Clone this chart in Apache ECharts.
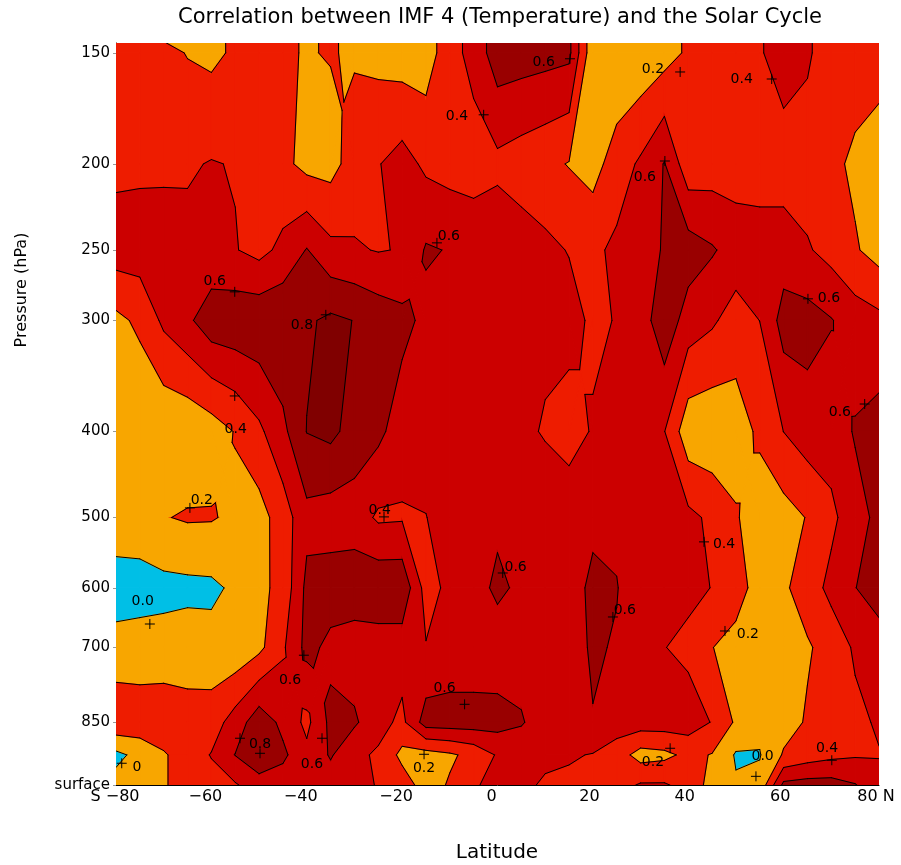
<!DOCTYPE html>
<html>
<head>
<meta charset="utf-8">
<title>Correlation between IMF 4 (Temperature) and the Solar Cycle</title>
<script src="https://cdn.jsdelivr.net/npm/echarts@6/dist/echarts.min.js"></script>
<style>
  html, body { margin: 0; padding: 0; background: #fff; }
  #chart { width: 901px; height: 865px; }
</style>
</head>
<body>
<div id="chart"></div>
<script>
// grid of the correlation field: latitude every 5 degrees, pressure levels in hPa
const latitudes = [-80, -75, -70, -65, -60, -55, -50, -45, -40, -35, -30, -25, -20, -15, -10, -5, 0,
  5, 10, 15, 20, 25, 30, 35, 40, 45, 50, 55, 60, 65, 70, 75, 80];
const pressureLevels = [140, 150, 200, 250, 300, 400, 500, 600, 700, 850, 925, 1000];

// correlation values, one row per pressure level (south -> north)
const corr140 = [0.30, 0.30, 0.12, 0.19, 0.155, 0.23, 0.30, 0.22, 0.19, 0.21, 0.18, 0.14, 0.10, 0.10, 0.32, 0.47, 0.71, 0.69, 0.67, 0.645, 0.05, 0.02, 0.05, 0.12, 0.23, 0.30, 0.33, 0.38, 0.50, 0.43, 0.28, 0.30, 0.30];
const corr150 = [0.30, 0.30, 0.26, 0.19, 0.155, 0.23, 0.30, 0.22, 0.19, 0.21, 0.18, 0.14, 0.10, 0.10, 0.32, 0.47, 0.71, 0.69, 0.67, 0.645, 0.05, 0.02, 0.05, 0.12, 0.23, 0.30, 0.33, 0.38, 0.50, 0.43, 0.28, 0.30, 0.30];
const corr200 = [0.35, 0.36, 0.37, 0.38, 0.41, 0.39, 0.35, 0.25, 0.14, 0.13, 0.29, 0.39, 0.48, 0.36, 0.32, 0.30, 0.35, 0.30, 0.25, 0.19, 0.12, 0.30, 0.43, 0.61, 0.27, 0.30, 0.30, 0.30, 0.30, 0.30, 0.25, 0.16, 0.08];
const corr250 = [0.50, 0.50, 0.48, 0.45, 0.45, 0.41, 0.34, 0.45, 0.61, 0.45, 0.42, 0.39, 0.41, 0.62, 0.59, 0.55, 0.55, 0.50, 0.45, 0.39, 0.36, 0.44, 0.50, 0.62, 0.70, 0.62, 0.52, 0.50, 0.50, 0.42, 0.33, 0.22, 0.12];
const corr300 = [0.15, 0.24, 0.44, 0.56, 0.72, 0.74, 0.75, 0.77, 0.77, 0.84, 0.795, 0.72, 0.66, 0.55, 0.50, 0.50, 0.50, 0.50, 0.45, 0.48, 0.36, 0.41, 0.50, 0.73, 0.51, 0.43, 0.31, 0.402, 0.68, 0.68, 0.61, 0.50, 0.45];
const corr400 = [0.05, 0.03, 0.03, 0.04, 0.10, 0.21, 0.36, 0.55, 0.805, 0.85, 0.72, 0.65, 0.49, 0.50, 0.50, 0.50, 0.50, 0.45, 0.38, 0.30, 0.42, 0.50, 0.45, 0.405, 0.07, 0.05, 0.10, 0.24, 0.402, 0.50, 0.50, 0.616, 0.68];
const corr500 = [0.10, 0.10, 0.19, 0.22, 0.215, 0.16, 0.12, 0.30, 0.54, 0.50, 0.50, 0.37, 0.38, 0.395, 0.50, 0.55, 0.55, 0.55, 0.55, 0.55, 0.55, 0.55, 0.50, 0.50, 0.45, 0.36, 0.22, 0.08, 0.12, 0.21, 0.35, 0.53, 0.645];
const corr600 = [-0.08, -0.07, -0.06, -0.05, -0.04, 0.035, 0.15, 0.26, 0.65, 0.70, 0.72, 0.75, 0.75, 0.32, 0.45, 0.50, 0.65, 0.55, 0.55, 0.50, 0.65, 0.61, 0.45, 0.50, 0.45, 0.395, 0.30, 0.10, 0.17, 0.29, 0.46, 0.595, 0.70];
const corr700 = [0.06, 0.07, 0.08, 0.10, 0.07, 0.05, 0.15, 0.37, 0.66, 0.55, 0.50, 0.50, 0.50, 0.41, 0.45, 0.45, 0.47, 0.50, 0.50, 0.50, 0.63, 0.58, 0.50, 0.405, 0.35, 0.205, 0.12, 0.05, 0.10, 0.18, 0.27, 0.43, 0.50];
const corr850 = [0.36, 0.33, 0.33, 0.28, 0.30, 0.49, 0.72, 0.55, 0.35, 0.65, 0.627, 0.475, 0.35, 0.69, 0.70, 0.70, 0.68, 0.62, 0.48, 0.50, 0.59, 0.50, 0.50, 0.50, 0.50, 0.39, 0.17, 0.05, 0.12, 0.22, 0.30, 0.35, 0.426];
const corr925 = [-0.05, 0.06, 0.18, 0.29, 0.41, 0.605, 0.75, 0.64, 0.45, 0.62, 0.45, 0.37, 0.146, 0.12, 0.17, 0.258, 0.42, 0.45, 0.45, 0.42, 0.39, 0.30, 0.12, 0.15, 0.25, 0.19, -0.02, -0.01, 0.22, 0.30, 0.35, 0.38, 0.39];
const corr1000 = [0.07, 0.10, 0.18, 0.29, 0.33, 0.38, 0.51, 0.50, 0.50, 0.50, 0.45, 0.39, 0.30, 0.11, 0.22, 0.36, 0.51, 0.45, 0.37, 0.36, 0.30, 0.32, 0.42, 0.42, 0.33, 0.125, 0.02, 0.05, 0.65, 0.68, 0.68, 0.61, 0.47];
const corrRows = [corr140, corr150, corr200, corr250, corr300, corr400, corr500, corr600, corr700, corr850, corr925, corr1000];

// contour levels and the fill colour of each band (below 0, 0-0.2, ... , above 0.8)
const contourLevels = [0, 0.2, 0.4, 0.6, 0.8];
const bandColors = ['#00BFE6', '#F8A600', '#EE1C00', '#CC0000', '#990000', '#800000'];

// axis ticks
const xTickValues = [-80, -60, -40, -20, 0, 20, 40, 60, 80];
const xTickLabels = ['S \u221280', '\u221260', '\u221240', '\u221220', '0', '20', '40', '60', '80 N'];
const yTickPressures = [150, 200, 250, 300, 400, 500, 600, 700, 850, 1000];
const yTickLabels = ['150', '200', '250', '300', '400', '500', '600', '700', '850', 'surface'];

// contour labels: "+" marker position and text position (latitude, hPa)
const markLat = [15.2, 38.3, 57.5, -2.9, 35.1, -12.7, -55.1, -36.0, 65.1, -55.1, 77.0, -64.5, -23.8, 43.3, 1.1, 24.2, -72.9, 47.7, -40.6, -6.9, -49.8, -54.0, -36.8, -15.4, 36.2, 54.2, 70.1, -78.8];
const markP = [152.3, 157.6, 160.5, 176.1, 198.5, 245.4, 278.6, 295.7, 283.7, 364.9, 372.6, 487.7, 499.2, 532.6, 577.3, 647.0, 658.9, 670.9, 714.4, 811.3, 921.1, 885.9, 885.9, 923.5, 909.2, 977.8, 937.9, 945.2];
const labelLat = [9.7, 32.6, 51.2, -8.5, 30.9, -10.2, -59.3, -41.0, 69.5, -54.9, 71.8, -62.0, -24.7, 47.5, 3.8, 26.7, -74.4, 52.5, -43.5, -11.1, -49.8, -54.0, -38.9, -15.4, 32.6, 55.6, 69.1, -75.6];
const labelP = [153.9, 156.4, 160.5, 176.6, 207.3, 241.0, 270.8, 303.6, 283.7, 397.6, 380.4, 477.7, 490.2, 535.4, 568.3, 635.4, 620.7, 676.2, 762.3, 778.3, 899.8, 885.9, 947.7, 957.7, 942.8, 927.9, 909.2, 955.2];
const labelText = ['0.6', '0.2', '0.4', '0.4', '0.6', '0.6', '0.6', '0.8', '0.6', '0.4', '0.6', '0.2', '0.4', '0.4', '0.6', '0.6', '0.0', '0.2', '0.6', '0.6', '0.8', '', '0.6', '0.2', '0.2', '0.0', '0.4', '0'];

const FONT = 'DejaVu Sans';
const bandLower = [-Infinity].concat(contourLevels);
const bandUpper = contourLevels.concat([Infinity]);

// one item per grid cell, placed at the cell centre
const cells = [];
for (let j = 0; j < pressureLevels.length - 1; j++) {
  for (let i = 0; i < latitudes.length - 1; i++) {
    cells.push([(latitudes[i] + latitudes[i + 1]) / 2,
      (Math.log(pressureLevels[j]) + Math.log(pressureLevels[j + 1])) / 2, i, j]);
  }
}
const marks = markLat.map(function (lat, k) { return [lat, Math.log(markP[k]), k]; });

// pieces of a cell: the quad itself, or 4 triangles around the mean
// when a level gives a saddle (so the saddle is decided by the cell mean)
function cellPieces(api) {
  const i = api.value(2), j = api.value(3);
  const q = [[i, j], [i + 1, j], [i + 1, j + 1], [i, j + 1]].map(function (c) {
    const p = api.coord([latitudes[c[0]], Math.log(pressureLevels[c[1]])]);
    return { x: p[0], y: p[1], v: corrRows[c[1]][c[0]] };
  });
  const saddle = contourLevels.some(function (L) {
    const a = q.map(function (c) { return c.v >= L; });
    return a[0] === a[2] && a[1] === a[3] && a[0] !== a[1];
  });
  if (!saddle) return [q];
  const mid = { x: 0, y: 0, v: 0 };
  q.forEach(function (c) { mid.x += c.x / 4; mid.y += c.y / 4; mid.v += c.v / 4; });
  return [0, 1, 2, 3].map(function (k) { return [q[k], q[(k + 1) % 4], mid]; });
}

function clip(poly, level, keepAbove) {
  const out = [];
  for (let k = 0; k < poly.length; k++) {
    const a = poly[k], b = poly[(k + 1) % poly.length];
    const inA = keepAbove ? a.v >= level : a.v <= level;
    const inB = keepAbove ? b.v >= level : b.v <= level;
    if (inA) out.push(a);
    if (inA !== inB) {
      const f = (level - a.v) / (b.v - a.v);
      out.push({ x: a.x + f * (b.x - a.x), y: a.y + f * (b.y - a.y), v: level });
    }
  }
  return out;
}

function renderBands(params, api) {
  const children = [];
  cellPieces(api).forEach(function (piece) {
    for (let b = 0; b < bandColors.length; b++) {
      let poly = piece;
      if (isFinite(bandLower[b])) poly = clip(poly, bandLower[b], true);
      if (poly.length > 2 && isFinite(bandUpper[b])) poly = clip(poly, bandUpper[b], false);
      if (poly.length > 2) {
        children.push({
          type: 'polygon',
          shape: { points: poly.map(function (p) { return [p.x, p.y]; }) },
          style: { fill: bandColors[b], stroke: bandColors[b], lineWidth: 1.2 }
        });
      }
    }
  });
  return { type: 'group', children: children };
}

function renderLines(params, api) {
  const children = [];
  cellPieces(api).forEach(function (piece) {
    contourLevels.forEach(function (level) {
      const pts = [];
      for (let k = 0; k < piece.length; k++) {
        const a = piece[k], b = piece[(k + 1) % piece.length];
        if ((a.v >= level) !== (b.v >= level)) {
          const f = (level - a.v) / (b.v - a.v);
          pts.push([a.x + f * (b.x - a.x), a.y + f * (b.y - a.y)]);
        }
      }
      if (pts.length === 2) {
        children.push({
          type: 'line',
          shape: { x1: pts[0][0], y1: pts[0][1], x2: pts[1][0], y2: pts[1][1] },
          style: { stroke: '#000', lineWidth: 1, lineCap: 'round' }
        });
      }
    });
  });
  return { type: 'group', children: children };
}

function renderMarks(params, api) {
  const k = api.value(2);
  const c = api.coord([api.value(0), api.value(1)]);
  const children = [
    { type: 'line', shape: { x1: c[0] - 5, y1: c[1], x2: c[0] + 5, y2: c[1] }, style: { stroke: '#000', lineWidth: 1 } },
    { type: 'line', shape: { x1: c[0], y1: c[1] - 5, x2: c[0], y2: c[1] + 5 }, style: { stroke: '#000', lineWidth: 1 } }
  ];
  if (labelText[k]) {
    const t = api.coord([labelLat[k], Math.log(labelP[k])]);
    children.push({
      type: 'text', x: t[0], y: t[1],
      style: {
        text: labelText[k], fill: '#000', font: '14px "' + FONT + '"',
        align: 'center', verticalAlign: 'middle', textAlign: 'center', textVerticalAlign: 'middle'
      }
    });
  }
  return { type: 'group', children: children };
}

const xRich = {};
[['neg', 12], ['pos', 7], ['edgeL', 2], ['edgeR', 6]].forEach(function (r) {
  xRich[r[0]] = { fontFamily: FONT, fontSize: 16, color: '#000', padding: [0, r[1], 0, 0] };
});

const option = {
  animation: false,
  backgroundColor: '#fff',
  grid: { left: 116, top: 43, right: 22, height: 742, containLabel: false },
  graphic: [
    {
      type: 'text', x: 500, y: 18,
      style: {
        text: 'Correlation between IMF 4 (Temperature) and the Solar Cycle',
        fill: '#000', font: '21px "' + FONT + '"',
        align: 'center', verticalAlign: 'middle', textAlign: 'center', textVerticalAlign: 'middle'
      }
    },
    {
      type: 'text', x: 22, y: 290, rotation: Math.PI / 2,
      style: {
        text: 'Pressure (hPa)', fill: '#000', font: '16px "' + FONT + '"',
        align: 'center', verticalAlign: 'middle', textAlign: 'center', textVerticalAlign: 'middle'
      }
    },
    {
      type: 'text', x: 497, y: 853,
      style: {
        text: 'Latitude', fill: '#000', font: '20px "' + FONT + '"',
        align: 'center', verticalAlign: 'middle', textAlign: 'center', textVerticalAlign: 'middle'
      }
    }
  ],
  xAxis: {
    type: 'value', min: -80, max: 80, interval: 20,
    axisLine: { show: true, onZero: false, lineStyle: { color: '#000', width: 1 } },
    axisTick: { show: false },
    splitLine: { show: false },
    axisLabel: {
      margin: 4, showMinLabel: true, showMaxLabel: true,
      fontFamily: FONT, fontSize: 16, color: '#000',
      formatter: function (v) {
        const k = xTickValues.indexOf(v);
        const style = k === 0 ? 'edgeL' : (k === xTickValues.length - 1 ? 'edgeR' : (v <= 0 ? 'neg' : 'pos'));
        return '{' + style + '|' + xTickLabels[k] + '}';
      },
      rich: xRich
    }
  },
  yAxis: {
    type: 'value', inverse: true,
    min: Math.log(146.2), max: Math.log(1000),
    axisLine: { show: true, onZero: false, lineStyle: { color: '#000', width: 1 } },
    axisTick: { show: true, length: 3, customValues: yTickPressures.map(Math.log), lineStyle: { color: '#999' } },
    splitLine: { show: false },
    axisLabel: {
      customValues: yTickPressures.map(Math.log),
      margin: 6, fontFamily: FONT, fontSize: 15, color: '#000',
      formatter: function (v) {
        let best = 0;
        yTickPressures.forEach(function (p, k) {
          if (Math.abs(Math.log(p) - v) < Math.abs(Math.log(yTickPressures[best]) - v)) best = k;
        });
        return yTickLabels[best];
      }
    }
  },
  series: [
    { type: 'custom', name: 'bands', renderItem: renderBands, data: cells, encode: { x: 0, y: 1 }, clip: true, silent: true, z: 1 },
    { type: 'custom', name: 'contours', renderItem: renderLines, data: cells, encode: { x: 0, y: 1 }, clip: true, silent: true, z: 2 },
    { type: 'custom', name: 'labels', renderItem: renderMarks, data: marks, encode: { x: 0, y: 1 }, clip: true, silent: true, z: 3 }
  ]
};

const myChart = echarts.init(document.getElementById('chart'));
myChart.setOption(option);
</script>
</body>
</html>
